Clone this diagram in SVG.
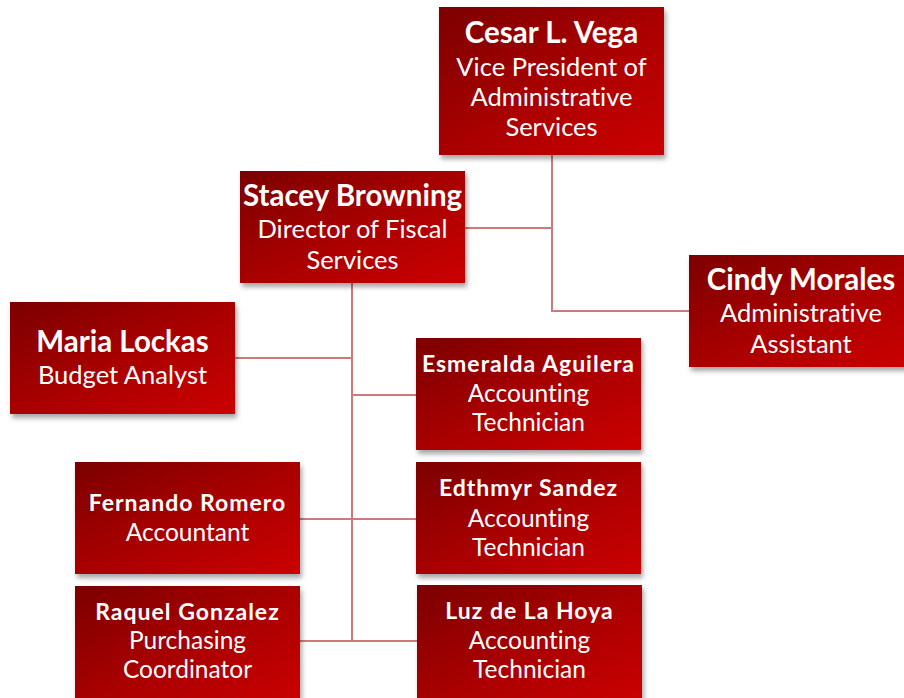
<svg xmlns="http://www.w3.org/2000/svg" width="904" height="698" viewBox="0 0 904 698">
  <defs>
    <linearGradient id="boxFill" x1="0" y1="0" x2="1" y2="1">
      <stop offset="0" stop-color="#7c0000"/>
      <stop offset="0.5" stop-color="#a80000"/>
      <stop offset="1" stop-color="#cc0000"/>
    </linearGradient>
    <filter id="shadow" x="-10%" y="-10%" width="125%" height="130%">
      <feDropShadow dx="2" dy="4" stdDeviation="2.5" flood-color="#000" flood-opacity="0.35"/>
    </filter>
    <style>
      .box { fill: url(#boxFill); filter: url(#shadow); }
      .name, .role { font-family: "Lato", "Liberation Sans", sans-serif; fill: #fff; text-anchor: middle; font-variant-ligatures: none; font-feature-settings: "liga" 0, "clig" 0; }
      .name { font-weight: bold; }
      .big .name { font-size: 29.5px; }
      .big .role { font-size: 25.5px; }
      .small .name { font-size: 23px; letter-spacing: 1px; }
      .small .role { font-size: 24.5px; }
      .link { fill: none; stroke: #cf7a7a; stroke-width: 2; }
    </style>
  </defs>
  <rect width="904" height="698" fill="#fff"/>

  <g id="connectors">
    <path class="link" d="M552 155 V311 H689"/>
    <path class="link" d="M552 228 H465"/>
    <path class="link" d="M352 283 V641"/>
    <path class="link" d="M352 358 H235"/>
    <path class="link" d="M352 395 H416"/>
    <path class="link" d="M299 519 H416"/>
    <path class="link" d="M299 641 H417"/>
  </g>

  <g id="cesar" class="big">
    <rect class="box" x="439" y="7" width="225" height="148"/>
    <text class="name" x="551.5" y="43">Cesar L. Vega</text>
    <text class="role" x="551.5" y="76">Vice President of</text>
    <text class="role" x="551.5" y="106">Administrative</text>
    <text class="role" x="551.5" y="136">Services</text>
  </g>

  <g id="stacey" class="big">
    <rect class="box" x="240" y="171" width="225" height="112"/>
    <text class="name" x="352.5" y="206">Stacey Browning</text>
    <text class="role" x="352.5" y="238">Director of Fiscal</text>
    <text class="role" x="352.5" y="269">Services</text>
  </g>

  <g id="cindy" class="big">
    <rect class="box" x="689" y="255" width="225" height="112"/>
    <text class="name" x="801" y="290">Cindy Morales</text>
    <text class="role" x="801" y="322">Administrative</text>
    <text class="role" x="801" y="353">Assistant</text>
  </g>

  <g id="maria" class="big">
    <rect class="box" x="10" y="302" width="225" height="112"/>
    <text class="name" x="122.5" y="352">Maria Lockas</text>
    <text class="role" x="122.5" y="384">Budget Analyst</text>
  </g>

  <g id="esmeralda" class="small">
    <rect class="box" x="416" y="338" width="225" height="112"/>
    <text class="name" x="528.5" y="372">Esmeralda Aguilera</text>
    <text class="role" x="528.5" y="402">Accounting</text>
    <text class="role" x="528.5" y="431">Technician</text>
  </g>

  <g id="fernando" class="small">
    <rect class="box" x="75" y="462" width="225" height="112"/>
    <text class="name" x="187.5" y="511">Fernando Romero</text>
    <text class="role" x="187.5" y="541">Accountant</text>
  </g>

  <g id="edthmyr" class="small">
    <rect class="box" x="416" y="462" width="225" height="112"/>
    <text class="name" x="528.5" y="496">Edthmyr Sandez</text>
    <text class="role" x="528.5" y="527">Accounting</text>
    <text class="role" x="528.5" y="556">Technician</text>
  </g>

  <g id="raquel" class="small">
    <rect class="box" x="75" y="586" width="225" height="120"/>
    <text class="name" x="187.5" y="620">Raquel Gonzalez</text>
    <text class="role" x="187.5" y="649">Purchasing</text>
    <text class="role" x="187.5" y="678">Coordinator</text>
  </g>

  <g id="luz" class="small">
    <rect class="box" x="417" y="585" width="225" height="120"/>
    <text class="name" x="529.5" y="619">Luz de La Hoya</text>
    <text class="role" x="529.5" y="649">Accounting</text>
    <text class="role" x="529.5" y="678">Technician</text>
  </g>
</svg>
